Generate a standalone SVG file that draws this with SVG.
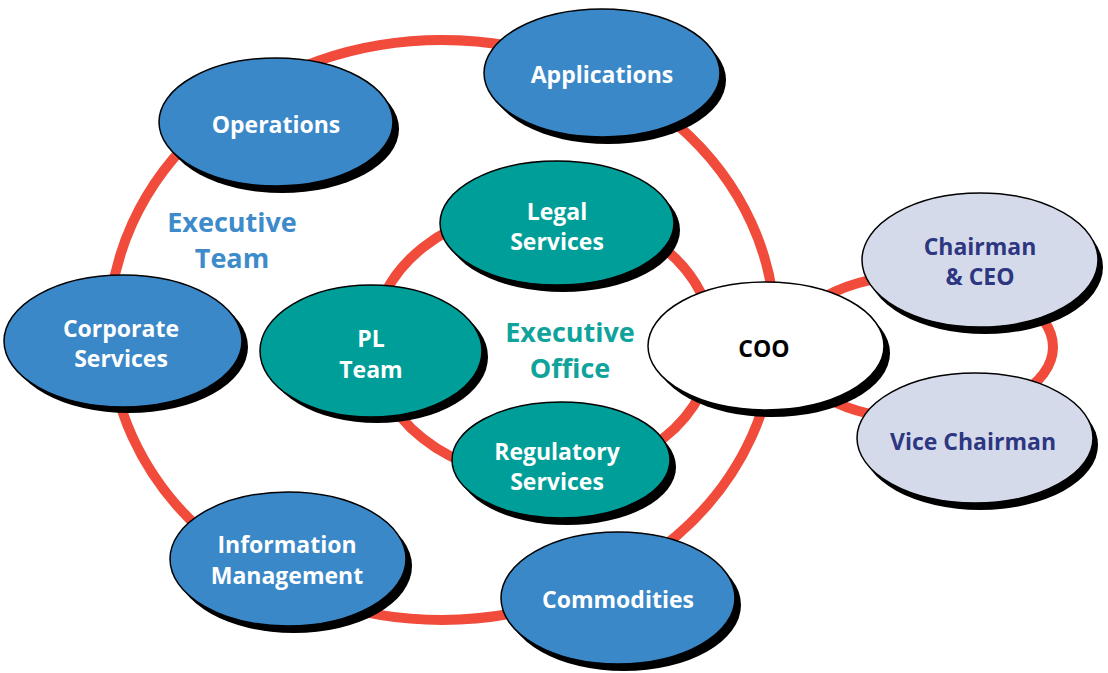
<svg xmlns="http://www.w3.org/2000/svg" width="1108" height="673" viewBox="0 0 1108 673">
<style>
.ring{fill:none;stroke:#f04b3b;stroke-width:10}
.sh{fill:#000}
.blue{fill:#3a88c8;stroke:#000;stroke-width:1.5}
.teal{fill:#009e98;stroke:#000;stroke-width:1.5}
.lav{fill:#d5daeb;stroke:#000;stroke-width:1.5}
.wht{fill:#fff;stroke:#000;stroke-width:1.5}
text{font-family:"Open Sans","Liberation Sans",sans-serif;font-weight:700;font-size:23px;text-anchor:middle}
.lw{fill:#fff}
.ln{fill:#2d3680}
.lk{fill:#000}
.big{font-size:27px}
</style>
<rect width="1108" height="673" fill="#fff"/>
<g id="connectors">
<ellipse class="ring" cx="442" cy="330" rx="333" ry="290"/>
<ellipse class="ring" cx="543" cy="343" rx="170" ry="135"/>
<ellipse class="ring" cx="920" cy="347" rx="133" ry="72"/>
</g>
<g id="label-executive-team">
<text class="big" x="232" y="232" fill="#3d8bcb">Executive</text>
<text class="big" x="232" y="268" fill="#3d8bcb">Team</text>
</g>
<g id="label-executive-office">
<text class="big" x="570" y="342" fill="#0fa39b">Executive</text>
<text class="big" x="570" y="378" fill="#0fa39b">Office</text>
</g>
<g id="operations">
<ellipse class="sh" cx="282" cy="129" rx="117" ry="64"/>
<ellipse class="blue" cx="276" cy="122" rx="117" ry="64"/>
<text class="lw" x="276" y="133">Operations</text>
</g>
<g id="applications">
<ellipse class="sh" cx="608" cy="80" rx="118" ry="64"/>
<ellipse class="blue" cx="602" cy="73" rx="118" ry="64"/>
<text class="lw" x="602" y="83">Applications</text>
</g>
<g id="legal-services">
<ellipse class="sh" cx="563" cy="230" rx="117" ry="62"/>
<ellipse class="teal" cx="557" cy="223" rx="117" ry="62"/>
<text class="lw" x="557" y="220">Legal</text>
<text class="lw" x="557" y="250">Services</text>
</g>
<g id="pl-team">
<ellipse class="sh" cx="377" cy="357" rx="111" ry="66"/>
<ellipse class="teal" cx="371" cy="351" rx="111" ry="66"/>
<text class="lw" x="371" y="347">PL</text>
<text class="lw" x="371" y="378">Team</text>
</g>
<g id="regulatory-services">
<ellipse class="sh" cx="567" cy="467" rx="109" ry="58"/>
<ellipse class="teal" cx="561" cy="460" rx="109" ry="58"/>
<text class="lw" x="557" y="460">Regulatory</text>
<text class="lw" x="557" y="490">Services</text>
</g>
<g id="corporate-services">
<ellipse class="sh" cx="129" cy="347" rx="119" ry="66"/>
<ellipse class="blue" cx="123" cy="341" rx="119" ry="66"/>
<text class="lw" x="121" y="337">Corporate</text>
<text class="lw" x="121" y="367">Services</text>
</g>
<g id="information-management">
<ellipse class="sh" cx="294" cy="566" rx="118" ry="67"/>
<ellipse class="blue" cx="288" cy="559" rx="118" ry="67"/>
<text class="lw" x="287" y="553">Information</text>
<text class="lw" x="287" y="584">Management</text>
</g>
<g id="commodities">
<ellipse class="sh" cx="624" cy="605" rx="117" ry="66"/>
<ellipse class="blue" cx="618" cy="598" rx="117" ry="66"/>
<text class="lw" x="618" y="608">Commodities</text>
</g>
<g id="coo">
<ellipse class="sh" cx="772" cy="353" rx="118" ry="64"/>
<ellipse class="wht" cx="766" cy="346" rx="118" ry="64"/>
<text class="lk" x="764" y="357">COO</text>
</g>
<g id="chairman-ceo">
<ellipse class="sh" cx="985" cy="267" rx="118" ry="67"/>
<ellipse class="lav" cx="980" cy="260" rx="118" ry="67"/>
<text class="ln" x="980" y="255">Chairman</text>
<text class="ln" x="980" y="285">&amp; CEO</text>
</g>
<g id="vice-chairman">
<ellipse class="sh" cx="980" cy="445" rx="118" ry="65"/>
<ellipse class="lav" cx="975" cy="438" rx="118" ry="65"/>
<text class="ln" x="973" y="450">Vice Chairman</text>
</g>
</svg>
